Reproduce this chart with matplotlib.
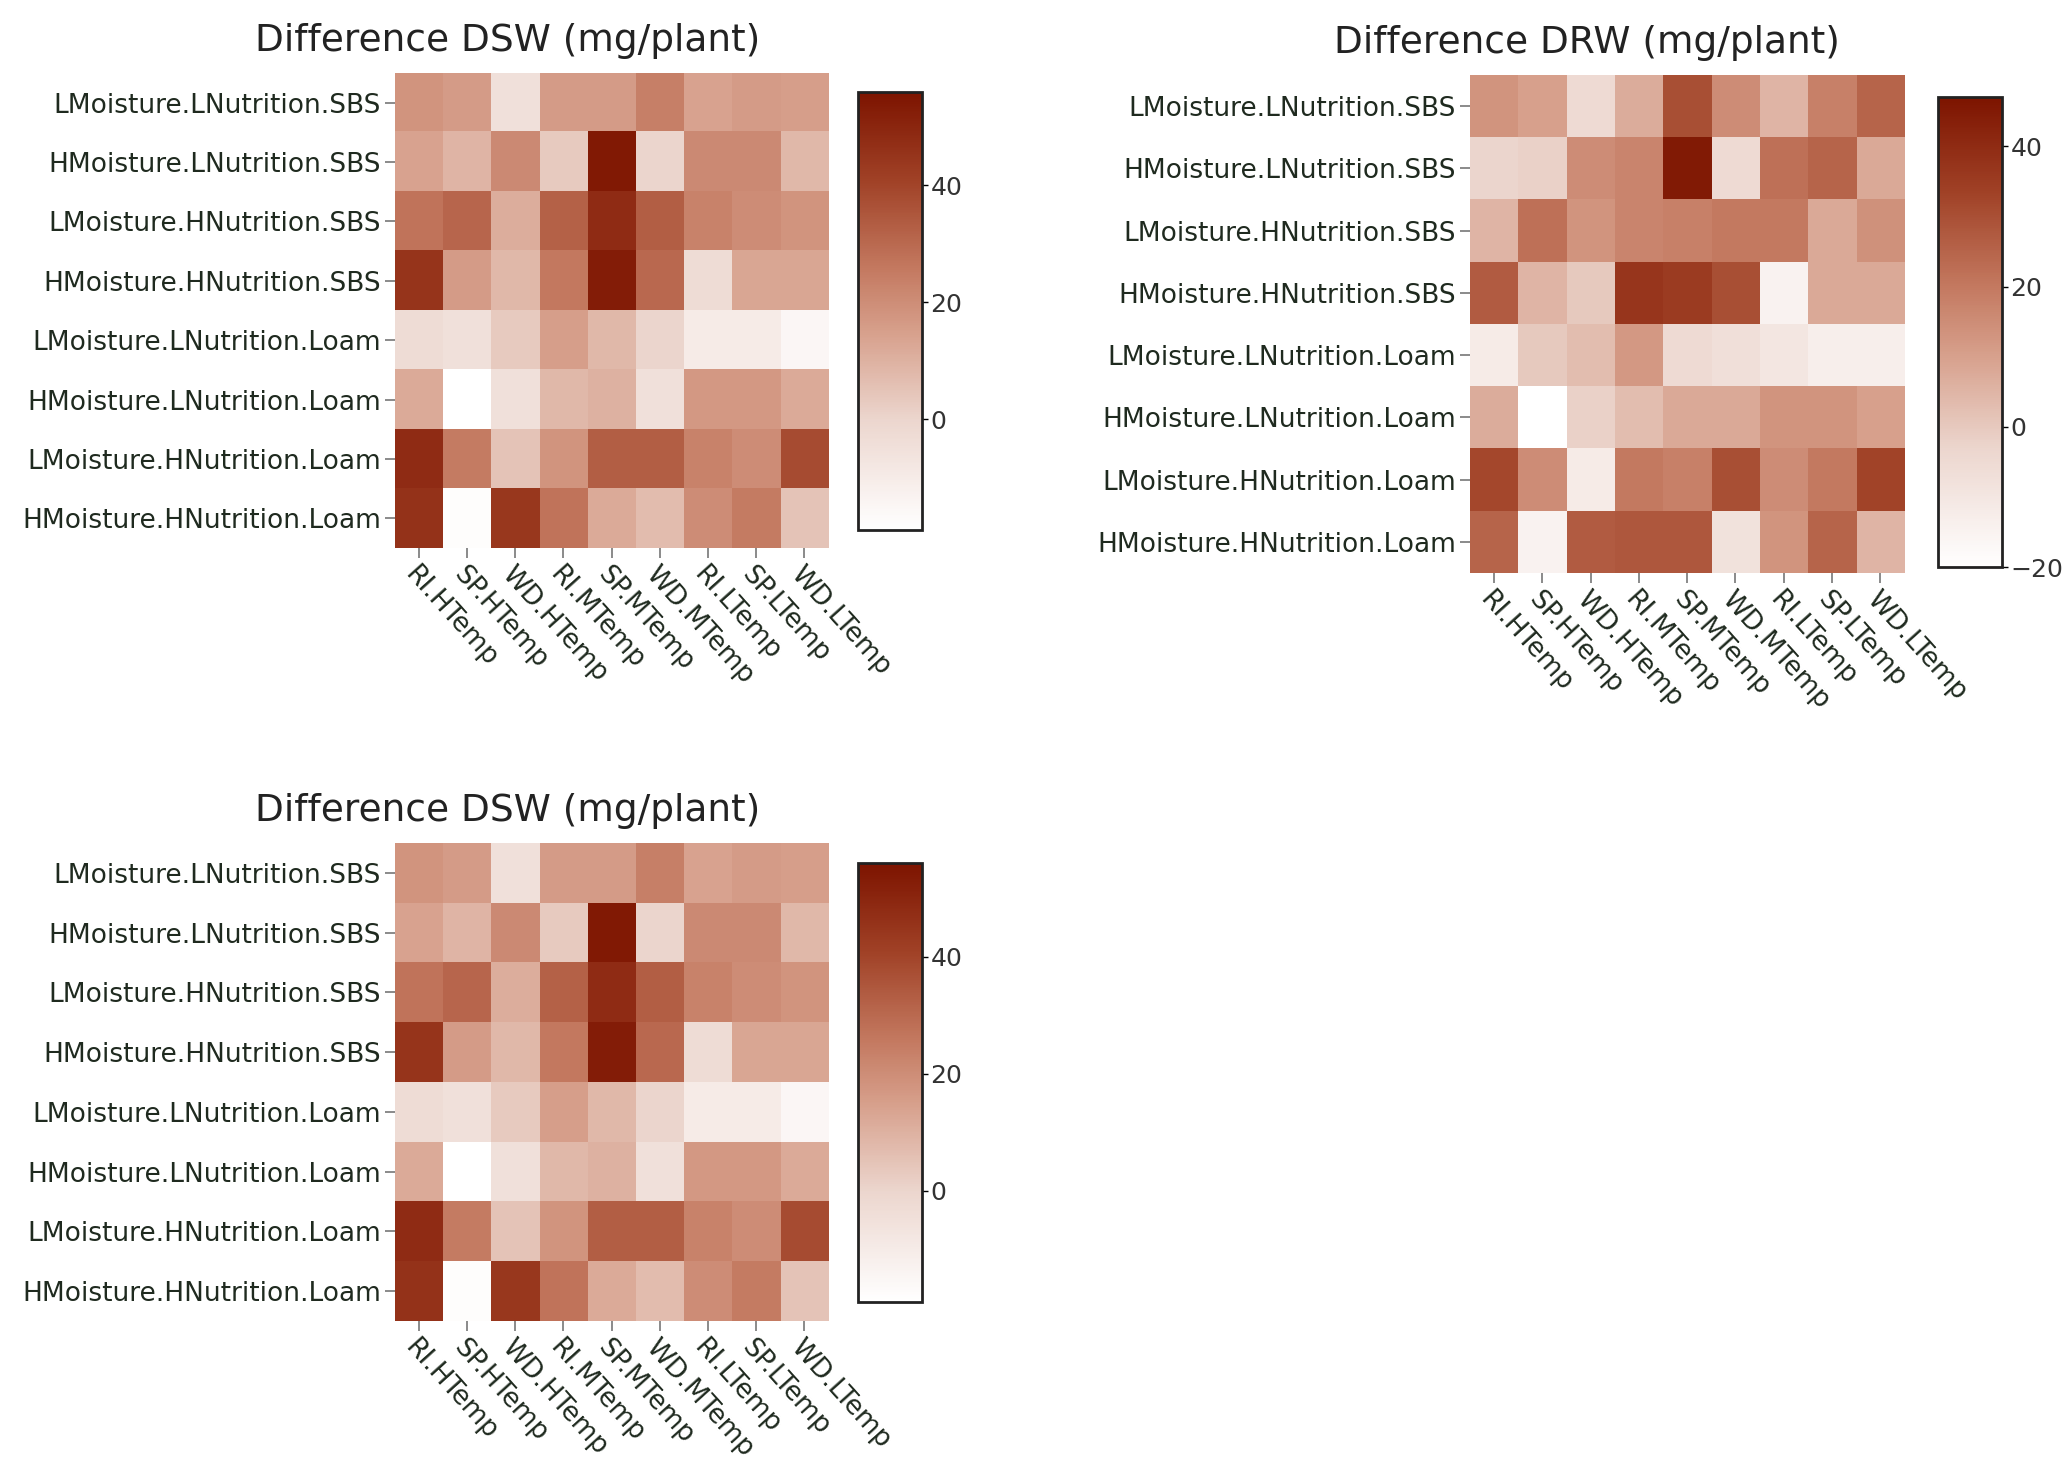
import numpy as np
import matplotlib
matplotlib.use("Agg")
import matplotlib.pyplot as plt
from matplotlib.colors import LinearSegmentedColormap

rows = ["LMoisture.LNutrition.SBS", "HMoisture.LNutrition.SBS",
        "LMoisture.HNutrition.SBS", "HMoisture.HNutrition.SBS",
        "LMoisture.LNutrition.Loam", "HMoisture.LNutrition.Loam",
        "LMoisture.HNutrition.Loam", "HMoisture.HNutrition.Loam"]
cols = ["RI.HTemp", "SP.HTemp", "WD.HTemp", "RI.MTemp", "SP.MTemp",
        "WD.MTemp", "RI.LTemp", "SP.LTemp", "WD.LTemp"]

dsw = np.array([
    [18, 16, -5, 16, 16, 24, 14, 16, 15],
    [14, 9, 21, 3, 54, 0, 21, 21, 8],
    [27, 31, 11, 32, 48, 33, 23, 20, 18],
    [45, 16, 8, 26, 53, 30, -3, 13, 13],
    [-3, -5, 3, 15, 8, 0, -10, -10, -15],
    [12, -19, -5, 8, 10, -5, 17, 17, 12],
    [48, 25, 5, 18, 33, 33, 23, 20, 38],
    [46, -18, 44, 27, 12, 7, 20, 25, 5],
])
drw = np.array([
    [13, 10, -5, 7, 30, 15, 5, 18, 25],
    [-3, -2, 15, 17, 45, -5, 22, 25, 8],
    [5, 22, 13, 17, 18, 20, 20, 8, 14],
    [27, 5, 0, 37, 35, 30, -15, 8, 8],
    [-12, 0, 3, 12, -5, -7, -10, -13, -13],
    [7, -20, -2, 3, 8, 8, 13, 13, 10],
    [32, 15, -12, 20, 18, 30, 15, 20, 33],
    [25, -15, 27, 28, 28, -8, 13, 25, 5],
])

cmap = LinearSegmentedColormap.from_list(
    "brn", [(0.0, "#ffffff"), (0.25, "#ecd6ce"), (0.45, "#d7a08c"),
            (0.6, "#c3785f"), (0.8, "#a04126"), (1.0, "#7d1400")])

fig = plt.figure(figsize=(20.67, 14.73), dpi=100)
txt = "#1f2a1f"


def panel(hm_pos, cb_pos, data, title, title_x, vmin, vmax, ticks):
    ax = fig.add_axes(hm_pos)
    im = ax.imshow(data, cmap=cmap, vmin=vmin, vmax=vmax, aspect="auto",
                   interpolation="nearest")
    for s in ax.spines.values():
        s.set_visible(False)
    ax.set_xticks(range(len(cols)))
    ax.set_xticklabels(cols, rotation=-48, ha="left", va="top",
                       rotation_mode="anchor", fontsize=19, color=txt)
    ax.set_yticks(range(len(rows)))
    ax.set_yticklabels(rows, fontsize=19, color=txt)
    ax.tick_params(axis="both", length=7, width=1.2, color="#777777", pad=3)
    ax.set_title(title, fontsize=27, color="#222222", pad=16, x=title_x)
    cax = fig.add_axes(cb_pos)
    cb = fig.colorbar(im, cax=cax, ticks=ticks)
    cb.outline.set_linewidth(2)
    cb.outline.set_edgecolor("#222222")
    cax.tick_params(length=4, width=1, labelsize=18, pad=2, labelcolor="#333333")
    return ax


panel([0.1911, 0.628, 0.2095, 0.3225], [0.4151, 0.6402, 0.031, 0.2974],
      dsw, "Difference DSW (mg/plant)", 0.26, -19, 56, [0, 20, 40])
panel([0.7112, 0.611, 0.21, 0.338], [0.9376, 0.615, 0.031, 0.319],
      drw, "Difference DRW (mg/plant)", 0.27, -20, 47, [-20, 0, 20, 40])
panel([0.1911, 0.1032, 0.2095, 0.3245], [0.4151, 0.116, 0.031, 0.298],
      dsw, "Difference DSW (mg/plant)", 0.26, -19, 56, [0, 20, 40])

fig.savefig("out.png", dpi=100)
